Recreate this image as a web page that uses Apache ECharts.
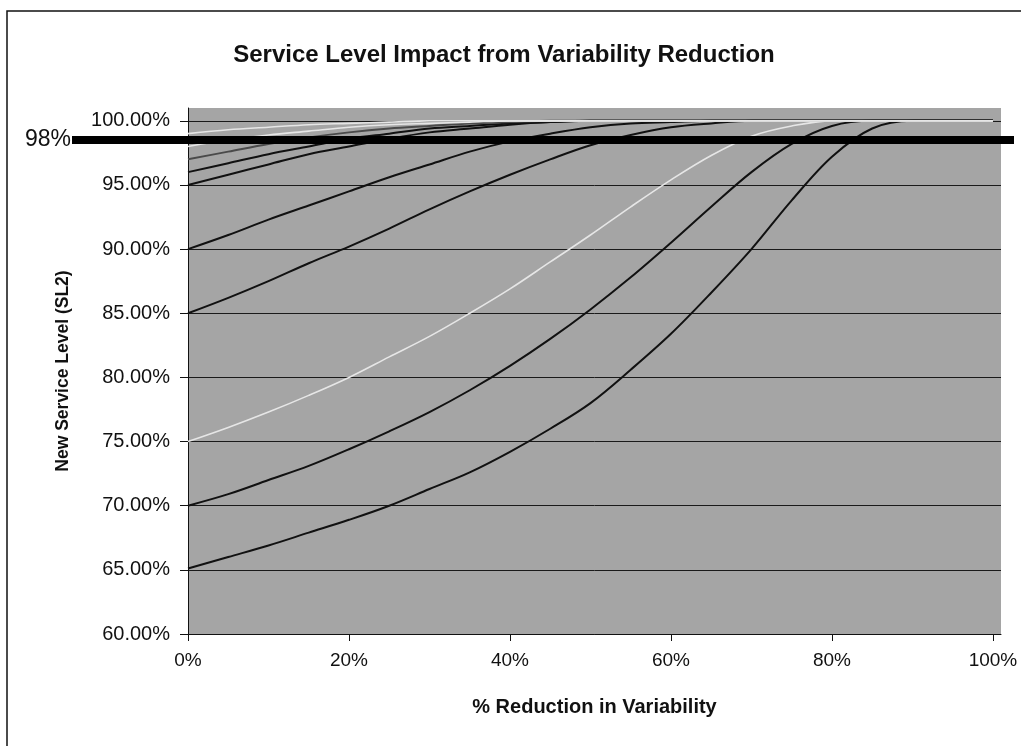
<!DOCTYPE html>
<html>
<head>
<meta charset="utf-8">
<script src="https://cdn.jsdelivr.net/npm/echarts@6/dist/echarts.min.js"></script>
<style>
html,body{margin:0;padding:0;background:#fff;}
#chart{width:1021px;height:746px;}
</style>
</head>
<body>
<div id="chart"></div>
<script>
// % reduction in variability (x)
const reduction = [0,5,10,15,20,25,30,35,40,45,50,55,60,65,70,75,80,85,90,95,100];
// New service level (%) for each starting service level
const sl65 = [65.1,66.0,66.9,67.9,68.9,70.0,71.3,72.6,74.2,76.0,78.0,80.6,83.4,86.6,90.0,93.8,97.2,99.4,100,100,100];
const sl70 = [70.0,70.9,72.0,73.1,74.4,75.8,77.3,79.0,80.9,83.0,85.3,87.8,90.5,93.3,96.0,98.2,99.6,100,100,100,100];
const sl75 = [75.0,76.1,77.3,78.6,80.0,81.6,83.2,85.0,86.9,89.0,91.1,93.3,95.4,97.3,98.8,99.6,100,100,100,100,100];
const sl85 = [85.0,86.2,87.5,88.9,90.2,91.6,93.1,94.5,95.8,97.0,98.1,98.9,99.5,99.8,100,100,100,100,100,100,100];
const sl90 = [90.0,91.1,92.3,93.4,94.5,95.6,96.6,97.6,98.4,99.0,99.5,99.8,99.9,100,100,100,100,100,100,100,100];
const sl95 = [95.0,95.8,96.6,97.4,98.0,98.6,99.1,99.4,99.7,99.9,100,100,100,100,100,100,100,100,100,100,100];
const sl96 = [96.0,96.7,97.4,98.0,98.6,99.0,99.4,99.6,99.8,99.9,100,100,100,100,100,100,100,100,100,100,100];
const sl97 = [97.0,97.6,98.2,98.7,99.1,99.4,99.6,99.8,99.9,100,100,100,100,100,100,100,100,100,100,100,100];
const sl98 = [98.0,98.5,98.9,99.2,99.5,99.7,99.8,99.9,100,100,100,100,100,100,100,100,100,100,100,100,100];
const sl99 = [99.0,99.3,99.5,99.7,99.8,99.9,100,100,100,100,100,100,100,100,100,100,100,100,100,100,100];
// reference target line
const targetLevel = 98.5;
const targetLabel = '98%';
// tick labels
const xTicks = [0,20,40,60,80,100];
const yTicks = [60,65,70,75,80,85,90,95,100];

const seriesDefs = [
  {name:'SL 65%', data:sl65, color:'#111111', width:2},
  {name:'SL 70%', data:sl70, color:'#111111', width:2},
  {name:'SL 75%', data:sl75, color:'#e6e6e6', width:1.6},
  {name:'SL 85%', data:sl85, color:'#111111', width:2},
  {name:'SL 90%', data:sl90, color:'#111111', width:2},
  {name:'SL 95%', data:sl95, color:'#111111', width:2},
  {name:'SL 96%', data:sl96, color:'#111111', width:2},
  {name:'SL 97%', data:sl97, color:'#4a4a4a', width:2},
  {name:'SL 98%', data:sl98, color:'#e6e6e6', width:1.6},
  {name:'SL 99%', data:sl99, color:'#e6e6e6', width:1.6}
];

const font = '"Liberation Sans", Arial, sans-serif';
const chart = echarts.init(document.getElementById('chart'), null, {renderer:'canvas'});

const series = seriesDefs.map(d => ({
  name: d.name,
  type: 'line',
  xAxisIndex: 0, yAxisIndex: 0,
  data: reduction.map((x,i) => [x, d.data[i]]),
  showSymbol: false,
  symbol: 'none',
  smooth: 0.35,
  lineStyle: {color: d.color, width: d.width},
  itemStyle: {color: d.color},
  z: 3
}));

series.push({
  name: 'Target',
  type: 'line',
  xAxisIndex: 1, yAxisIndex: 1,
  data: [],
  markLine: {
    silent: true,
    symbol: 'none',
    animation: false,
    data: [{yAxis: targetLevel}],
    lineStyle: {color: '#000', width: 8, type: 'solid'},
    label: {show: true, position: 'start', formatter: targetLabel, fontFamily: font, fontSize: 23, color: '#111', distance: 1}
  },
  z: 10
});

chart.setOption({
  animation: false,
  backgroundColor: '#ffffff',
  title: {
    text: 'Service Level Impact from Variability Reduction',
    left: 499, top: 38, textAlign: 'center',
    textStyle: {fontFamily: font, fontSize: 24, fontWeight: 'bold', color: '#111'}
  },
  graphic: [{
    type: 'rect', silent: true, z: -1,
    shape: {x: 7, y: 11, width: 1100, height: 1000},
    style: {fill: null, stroke: '#111', lineWidth: 1.5}
  }],
  grid: [
    {left: 188, right: 20, top: 108, bottom: 112, show: true, backgroundColor: '#a5a5a5', borderWidth: 0},
    {left: 72, right: 7, top: 108, bottom: 112, show: false}
  ],
  xAxis: [{
    gridIndex: 0, type: 'value', min: 0, max: 101,
    name: '% Reduction in Variability', nameLocation: 'middle', nameGap: 63,
    nameTextStyle: {fontFamily: font, fontSize: 20, fontWeight: 'bold', color: '#111'},
    axisLine: {show: true, lineStyle: {color: '#111', width: 1}},
    axisTick: {show: true, length: 7, inside: false, customValues: xTicks, lineStyle: {color: '#111'}},
    axisLabel: {customValues: xTicks, formatter: v => v + '%', fontFamily: font, fontSize: 19, color: '#111', margin: 17},
    splitLine: {show: false}
  }, {
    gridIndex: 1, type: 'value', min: 0, max: 1, show: false
  }],
  yAxis: [{
    gridIndex: 0, type: 'value', min: 60, max: 101,
    name: 'New Service Level (SL2)', nameLocation: 'middle', nameGap: 116, nameRotate: 90,
    nameTextStyle: {fontFamily: font, fontSize: 17.5, fontWeight: 'bold', color: '#111'},
    axisLine: {show: true, lineStyle: {color: '#111', width: 1}},
    axisTick: {show: true, length: 8, inside: false, customValues: yTicks, lineStyle: {color: '#111'}},
    axisLabel: {customValues: yTicks, formatter: v => v.toFixed(2) + '%', fontFamily: font, fontSize: 20, color: '#111', margin: 18},
    splitLine: {show: true, lineStyle: {color: '#1a1a1a', width: 1}}
  }, {
    gridIndex: 1, type: 'value', min: 60, max: 101, show: false
  }],
  series: series
});
</script>
</body>
</html>
